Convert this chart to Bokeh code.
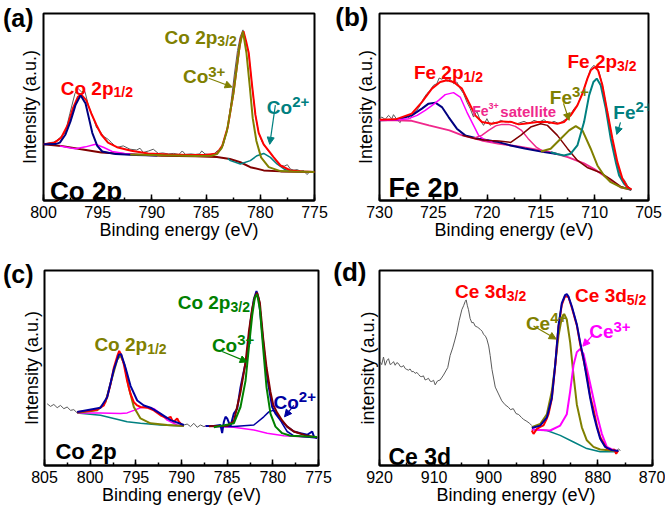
from bokeh.plotting import figure
from bokeh.layouts import column, row
from bokeh.models import Range1d, SingleIntervalTicker, FixedTicker, Arrow, NormalHead
from bokeh.core.properties import value
from bokeh.embed import file_html
from bokeh.resources import INLINE

FONT = "Liberation Sans"

# ---------------- panel (a) Co 2p ----------------
a_raw_ev = [800.0, 799.4, 799.1, 798.8, 798.5, 798.0, 797.56, 797.1, 796.8, 796.49,
            796.18, 795.87, 795.41, 795.1, 794.79, 794.49, 794.03, 793.72, 793.26, 792.64,
            792.02, 791.4, 791.1, 790.79, 790.3, 789.87, 789.41, 789.0, 788.5, 788.0,
            787.5, 787.2, 786.9, 786.4, 786.0, 785.6, 785.4, 785.1, 784.6, 784.2,
            784.0, 783.7, 783.4, 783.0, 782.7, 782.4, 782.1, 781.85, 781.6, 781.35,
            781.07, 780.76, 780.45, 780.15, 779.85, 779.5, 779.22, 778.76, 778.4, 778.14,
            777.8, 777.5, 777.22, 776.9, 776.6, 776.3, 776.0, 775.7, 775.4, 775.0]
a_raw_i = [57.3, 59, 59.5, 61, 64, 69, 89, 109, 114, 110.7,
           111.3, 97.3, 84, 74, 70.7, 65.7, 62.3, 59, 54, 55.7,
           52.3, 51.5, 53.3, 49, 50.5, 52.3, 48, 48.5, 47.5, 48,
           47, 50.5, 47, 47.5, 47, 47.5, 50.5, 47.5, 47, 48,
           50.5, 51, 57, 75, 100, 128, 153, 167, 174, 163,
           150, 117, 87, 69, 60, 54, 50, 44, 39, 36,
           35, 36.5, 32, 31, 31.5, 30, 30.5, 26.5, 29.5, 28.5]
a_env_ev = [800.0, 798.98, 798.37, 797.75, 797.29, 796.83, 796.52, 796.06, 795.6, 795.13,
            794.67, 794.05, 793.13, 791.9, 790.36, 788.5, 786.5, 785.0, 784.0, 783.5,
            783.0, 782.5, 782.0, 781.8, 781.55, 781.3, 781.07, 780.76, 780.45, 780.15,
            779.69, 779.22, 778.76, 778.14, 777.22, 776.2, 775.0]
a_env_i = [57.3, 59, 64, 77.3, 94, 105.7, 108, 102.3, 89, 77.3,
           67.3, 59, 54, 50.7, 48, 47, 46.5, 46.5, 48, 56,
           75, 108, 150, 165, 172.5, 162, 150.7, 117.3, 87.3, 69,
           57.3, 50.7, 44, 35.7, 30.7, 29.5, 29]
a_bg_ev = [800.0, 798.37, 796.52, 794.67, 792.51, 789.12, 786.0, 784.0, 782.8, 781.84,
           780.92, 779.69, 778.14, 775.0]
a_bg_i = [57.3, 55.7, 52.3, 49, 47.3, 45.7, 45, 44.3, 42.3, 39,
          34, 30.7, 29.7, 29]
a_p12_ev = [800.0, 798.9, 798.49, 797.97, 797.51, 797.05, 796.58, 796.12, 795.81, 795.5,
            795.04, 794.58, 793.35, 791.5, 789.5]
a_p12_i = [57.3, 57.5, 59, 67.3, 80.7, 97.3, 107.3, 99, 84, 69,
           55.7, 50, 47.3, 46.3, 45.8]
a_sat_ev = [798.5, 797.5, 797.05, 796.12, 795.2, 794.43, 793.66, 792.51, 791.5]
a_sat_i = [55.5, 53.5, 52.8, 54.7, 57.3, 54, 50, 48, 47]
a_co3_ev = [792.0, 789.0, 786.0, 784.5, 784.0, 783.54, 783.08, 782.77, 782.46, 782.15,
            781.91, 781.6, 781.28, 780.98, 780.7, 780.36, 779.93, 779.22, 778.14, 777.0, 775.0]
a_co3_i = [47, 46.2, 45.5, 45.7, 47.3, 54, 70.7, 90.7, 110.7, 137.3,
           157.3, 172.3, 150.7, 117.3, 84, 60.7, 44, 34, 30, 29.5, 29]
a_co2_ev = [783.0, 782.76, 781.84, 780.92, 780.3, 779.69, 779.07, 778.46, 777.69, 776.61, 775.2]
a_co2_i = [43, 40.7, 37.3, 40.7, 45.7, 48, 44, 37.3, 31.3, 29.7, 29]

# ---------------- panel (b) Fe 2p ----------------
b_raw_ev = [730.0, 729.78, 729.47, 729.16, 728.85, 728.70, 728.39, 728.08, 727.92, 727.46,
            727.15, 726.84, 726.53, 726.22, 725.91, 725.60, 725.29, 724.98, 724.67, 724.45,
            724.20, 723.98, 723.74, 723.43, 723.12, 722.81, 722.50, 722.19, 721.88, 721.57,
            721.26, 720.95, 720.64, 720.33, 720.02, 719.71, 719.40, 719.09, 718.78, 718.31,
            717.84, 717.38, 717.19, 716.57, 716.10, 715.64, 715.17, 714.71, 714.24, 713.78,
            713.31, 712.85, 712.38, 711.92, 711.61, 711.30, 710.99, 710.68, 710.37, 710.06,
            709.81, 709.59, 709.28, 708.82, 708.35, 707.95, 707.58, 707.27, 706.96, 706.65]
b_raw_i = [81.7, 83.3, 81, 85, 81.7, 85.7, 81, 77.7, 82.3, 84.3,
           81.7, 86.7, 90, 95, 101.7, 106.7, 110, 115, 116.7, 122.3,
           121, 123.3, 119, 121, 116.7, 118.3, 111.7, 106.7, 98.3, 91.7,
           83.3, 89, 80, 75, 81.7, 75, 78.3, 76.7, 80, 78.3,
           79, 76.7, 76.7, 79, 76.7, 80, 78.3, 80.7, 76.7, 79,
           76.7, 80, 83.3, 91.7, 95, 103.3, 111.7, 121.7, 131.7, 135,
           132.3, 128.3, 115, 88.3, 60, 38.3, 23.3, 21, 15, 11.7]
b_env_ev = [730.0, 728.5, 727.0, 726.06, 725.13, 724.36, 723.74, 723.12, 722.34, 721.72,
            721.1, 720.48, 719.55, 718.62, 717.69, 717.07, 716.57, 715.33, 714.4, 713.47,
            712.85, 712.23, 711.61, 711.14, 710.68, 710.37, 709.99, 709.69, 709.28, 708.82,
            708.35, 707.89, 707.42, 706.96, 706.58]
b_env_i = [80.5, 81, 86.7, 98.3, 111.7, 118.3, 120, 118.3, 111.7, 98.3,
           85, 78.3, 76.7, 79, 78.3, 76, 76.7, 78.3, 78.3, 76.7,
           78.3, 85, 95, 106.7, 121.7, 130, 133.3, 130, 115, 88.3,
           61.7, 38.3, 21.7, 13.3, 11]
b_bg_ev = [730.0, 728.5, 727.0, 725.4, 723.5, 722.3, 720.5, 719.0, 717.1, 715.5,
           714.0, 712.5, 711.0, 710.0, 709.4, 708.5, 707.6, 706.6]
b_bg_i = [80, 80, 79.5, 75, 70, 65, 60, 57, 54, 51,
          48, 43.3, 37, 31, 26.7, 20, 13.3, 10.7]
b_p12a_ev = [730.0, 728.4, 727.0, 726.06, 725.44, 724.82, 724.2, 723.58, 722.81, 722.03,
             720.79, 718.93, 717.81, 716.5, 714.71, 713.5]
b_p12a_i = [80, 80.5, 85, 91.7, 96.7, 97.7, 93.3, 83.3, 71.7, 65,
            61.7, 58.3, 55, 52, 48.3, 46.5]
b_p12b_ev = [730.0, 728.5, 727.3, 726.5, 725.75, 725.1, 724.51, 723.89, 723.12, 722.5,
             721.88, 721.26, 720.79, 720.3, 719.5]
b_p12b_i = [80, 80.3, 81.7, 85, 90, 95, 100, 105.7, 107.7, 103.3,
            88.3, 75, 65, 61, 58.5]
b_sat_ev = [721.3, 720.5, 719.86, 719.2, 718.62, 718.0, 717.38, 716.8, 716.2, 715.4, 714.7]
b_sat_i = [62, 65, 70, 74.5, 76, 76, 74, 70, 62, 53, 48.5]
b_mid_ev = [722.3, 721.0, 719.86, 718.9, 717.8, 716.88, 715.95, 715.02, 714.4, 713.47,
            712.54, 711.6, 710.7, 709.5, 708.5, 707.6, 706.6]
b_mid_i = [65, 61.5, 60, 59.5, 58, 65, 73.3, 76.7, 75, 65,
           52, 40, 33, 28, 21, 14, 10.7]
b_fe3_ev = [715.0, 714.09, 713.16, 712.38, 711.76, 711.14, 710.37, 709.75, 709.13, 708.51,
            707.58, 706.65]
b_fe3_i = [49, 51.7, 61.7, 70, 74.3, 70, 51.7, 35, 25, 18.3, 13.3, 11]
b_fe2_ev = [714.09, 713.5, 712.85, 712.23, 711.61, 710.99, 710.52, 710.12, 709.81, 709.44,
            708.97, 708.51, 708.04, 707.73, 707.27, 706.8, 706.6]
b_fe2_i = [48.3, 46.5, 45, 46.7, 55, 78.3, 105, 118.3, 121.7, 115,
           91.7, 61.7, 38.3, 25, 16.7, 11.7, 10.7]

# ---------------- panel (c) Co 2p ----------------
c_raw1_ev = [804.71, 804.34, 803.98, 803.61, 803.25, 802.88, 802.52, 802.15, 801.79, 801.42]
c_raw1_i = [63, 60.3, 62.3, 59, 61.3, 58, 59.7, 56.3, 57, 53.7]
c_raw2_ev = [789.74, 789.38, 789.01, 788.65, 788.28, 787.92, 787.55, 787.37]
c_raw2_i = [41.3, 42.3, 39.7, 43, 39, 41.3, 39.7, 40.3]
c_dat1_ev = [801.42, 800.33, 799.23, 798.5, 798.14, 797.77, 797.41, 797.04, 796.82, 796.61,
             796.31, 795.95, 795.58, 795.22, 794.85, 794.49, 793.76, 793.03, 792.3, 791.57,
             791.2, 791.02, 790.84, 790.47, 790.29, 789.93]
c_dat1_i = [54.7, 55.7, 57, 61.3, 69.7, 83, 99.7, 111.3, 117, 113,
            103, 86.3, 73, 64.7, 61.3, 59.7, 59, 56.3, 51.3, 48,
            49.7, 46.3, 44.7, 48, 44.7, 41.3]
c_env1_ev = [801.42, 798.87, 798.14, 797.41, 796.86, 796.61, 796.13, 795.58, 794.85, 794.12,
             793.39, 792.3, 791.2, 789.74]
c_env1_i = [54.7, 59, 69.7, 98, 113, 113.7, 99.7, 81.3, 66.3, 61.3,
            59, 53, 46.3, 41.3]
c_p12_ev = [801.42, 799.23, 798.32, 797.59, 797.04, 796.68, 796.24, 795.77, 795.22, 794.49,
            793.39, 791.57, 789.74]
c_p12_i = [53.7, 56.3, 64.7, 89.7, 108, 112.3, 103, 79.7, 59.7, 48,
           43, 41.3, 40.3]
c_sat_ev = [801.42, 798.87, 796.68, 795.95, 795.22, 794.49, 793.76, 793.03, 792.3, 791.57,
            790.47, 789.74]
c_sat_i = [53.7, 53.7, 53, 53.7, 56.3, 59, 59.7, 58, 53, 46.3, 41.3, 40.3]
c_bg1_ev = [801.42, 798.87, 797.41, 795.95, 794.49, 792.3, 789.74]
c_bg1_i = [53.7, 51.3, 48, 44.7, 43, 41.3, 40.3]
c_dat2_ev = [787.37, 786.46, 785.73, 785.55, 785.36, 785.18, 785.0, 784.64, 784.27, 783.9,
             783.54, 782.81, 782.45, 782.08, 781.79, 781.53, 781.17, 780.8, 780.44, 780.07,
             779.71, 779.16, 778.43, 777.7, 776.97, 776.24, 775.69, 775.51, 775.15]
c_dat2_i = [40.3, 40.3, 41.3, 33, 44.7, 49.7, 48, 39.7, 53, 58,
            79.7, 113, 146.3, 169.7, 178, 169.7, 136.3, 103, 79.7, 59.7,
            53, 46.3, 39.7, 34.7, 33, 31.3, 34.7, 29.7, 28]
c_env2_ev = [787.0, 785.0, 784.27, 783.54, 782.99, 782.63, 782.26, 781.97, 781.72, 781.42,
             781.06, 780.69, 780.26, 779.96, 779.53, 778.98, 778.43, 777.7, 776.5, 775.15]
c_env2_i = [40, 40.5, 45, 75, 105, 136, 160, 172, 176.3, 166,
            130, 100, 75, 62, 54, 46, 39.7, 34.7, 31, 28.7]
c_co3_ev = [786.46, 784.27, 783.54, 782.99, 782.63, 782.26, 781.97, 781.72, 781.42, 781.06,
            780.69, 780.26, 779.71, 778.98, 778.07, 775.15]
c_co3_i = [39, 43, 59.7, 86.3, 119.7, 153, 171.3, 174.7, 159.7, 119.7,
           79.7, 53, 39.7, 33, 30.3, 29]
c_co2_ev = [786.46, 784.27, 782.08, 780.99, 780.44, 779.96, 779.53, 778.98, 778.43, 777.7, 775.15]
c_co2_i = [39.7, 39.7, 41.3, 49.7, 54.7, 56.3, 53, 43, 34.7, 30.3, 28]
c_bg2_ev = [787.37, 784.27, 782.08, 780.62, 778.8, 775.15]
c_bg2_i = [40.3, 39, 36.3, 33, 30.3, 28.7]

# ---------------- panel (d) Ce 3d ----------------
d_raw_ev = [919.88, 919.6, 919.27, 918.96, 918.65, 918.35, 918.05, 917.74, 917.43, 917.13,
            916.82, 916.52, 916.2, 915.91, 915.6, 915.3, 915.0, 914.69, 914.4, 914.08,
            913.78, 913.47, 913.15, 912.86, 912.55, 912.25, 911.95, 911.64, 911.33, 911.03,
            910.72, 910.42, 910.1, 909.8, 909.38, 908.89, 908.28, 907.5, 907.06, 906.6,
            906.2, 905.84, 905.4, 904.92, 904.6, 904.31, 904.13, 903.9, 903.7, 903.4,
            903.09, 902.8, 902.48, 902.0, 901.56, 901.2, 900.95, 900.6, 900.34, 900.0,
            899.73, 899.4, 898.8, 898.2, 897.6, 897.0, 896.4, 896.0, 895.5, 895.0,
            894.5, 894.0, 893.6, 893.0, 892.5, 892.1]
d_raw_i = [105.7, 103, 110.7, 102.3, 107, 109, 103, 104, 106, 102.3,
           105, 104, 101, 100.7, 102, 99, 98, 97.3, 98.5, 95.7,
           96, 94, 95, 93, 91, 90.7, 91.5, 87.3, 88, 89,
           86, 85.7, 87, 82.3, 86.3, 87.3, 92.3, 100, 112.3, 120,
           128, 135.7, 148, 159, 163, 167.3, 169, 163, 159, 150,
           145.7, 146, 142.3, 141, 139, 137, 134, 132, 129, 122,
           112.3, 98, 80, 73, 66, 62, 59.5, 57, 58, 53,
           52, 49, 47, 45, 43, 40.7]
d_tail_ev = [876.5, 876.2, 875.9]
d_tail_i = [15.5, 17, 15]
d_env_ev = [892.1, 890.57, 889.35, 888.44, 887.83, 887.22, 886.61, 886.0, 885.7, 885.39,
            884.77, 883.86, 883.25, 882.64, 882.03, 881.42, 880.81, 880.2, 879.58, 878.67,
            877.45, 876.23]
d_env_i = [38.3, 40.7, 49, 69, 102.3, 142.3, 165.7, 174, 175, 172.3,
           162.3, 144, 125.7, 109, 89, 69, 52.3, 39, 27.3, 19,
           15.7, 14.7]
d_ce4_ev = [892.1, 890.57, 889.35, 888.44, 887.83, 887.22, 886.61, 886.18, 885.7, 885.08,
            884.47, 883.86, 882.94, 882.03, 880.81, 879.58, 876.53]
d_ce4_i = [39, 42.3, 52.3, 75.7, 102.3, 132.3, 150.7, 154.7, 149, 125.7,
           92.3, 62.3, 39, 25.7, 19, 16.3, 14.7]
d_ce3_ev = [892.1, 890.57, 888.74, 886.91, 885.7, 885.08, 884.47, 883.86, 883.25, 882.64,
            882.03, 881.11, 880.2, 879.28, 878.36, 877.14, 876.53]
d_ce3_i = [36.7, 36.3, 35.7, 40.7, 52.3, 75.7, 102.3, 115.7, 119, 114,
           99, 75.7, 52.3, 32.3, 19, 15.7, 15]
d_bg_ev = [892.1, 889.35, 886.91, 884.47, 882.03, 879.58, 876.53]
d_bg_i = [36.7, 35.7, 30.7, 24, 17.3, 14, 14]
d_dat_ev = [892.1, 891.79, 891.18, 890.57, 889.96, 889.35, 889.05, 888.44, 887.83, 887.22,
            886.61, 886.0, 885.39, 884.77, 883.86, 883.25, 882.64, 882.03, 881.42, 880.81,
            880.2, 879.58, 878.67, 878.36, 877.45, 877.0, 876.65, 876.3]
d_dat_i = [35.7, 32.3, 37.3, 39.5, 41, 48, 52.3, 68, 101, 142,
           164, 173, 172, 161, 143, 124, 108, 92.3, 71, 57.3,
           41, 29, 20, 17.3, 15.7, 16.5, 12, 15]

GRAY = "#5a5a5a"
RED = "#ff0000"
NAVY = "#000080"
MAG = "#ff00ff"
PINK = "#f0288c"
OLIVE = "#808000"
TEAL = "#008080"
MAROON = "#800000"
GREEN = "#008000"
BLUE = "#0000a0"


def make_fig(xr, ymax, interval, bl, fw, br, bt, fh, bb,
             tag, tag_y, tag_size, tag_standoff, ylab, ylab_standoff):
    p = figure(width=bl + fw + br, height=bt + fh + bb,
               x_range=Range1d(xr[0], xr[1]), y_range=Range1d(0, ymax),
               output_backend="svg", toolbar_location=None,
               min_border_left=bl, min_border_right=br, min_border_top=bt,
               min_border_bottom=bb)
    p.xgrid.visible = False
    p.ygrid.visible = False
    p.outline_line_color = "black"
    p.outline_line_width = 2
    p.outline_line_alpha = 1
    p.background_fill_color = "white"
    p.border_fill_color = "white"
    ax = p.xaxis[0]
    ax.ticker = SingleIntervalTicker(interval=interval, num_minor_ticks=2)
    ax.axis_line_width = 2
    ax.major_tick_in = 6
    ax.major_tick_out = 0
    ax.minor_tick_in = 3
    ax.minor_tick_out = 0
    ax.major_tick_line_width = 1.5
    ax.minor_tick_line_width = 1.5
    ax.major_label_text_font = FONT
    ax.major_label_text_font_size = "16px"
    ax.major_label_text_color = "black"
    ax.major_label_standoff = 5
    ax.axis_label = "Binding energy (eV)"
    ax.axis_label_text_font = FONT
    ax.axis_label_text_font_size = "18px"
    ax.axis_label_text_font_style = "normal"
    ax.axis_label_text_color = "black"
    ax.axis_label_standoff = -1
    # left axis: no ticks; its single label is the panel tag, plus the y title
    yax = p.yaxis[0]
    yax.ticker = FixedTicker(ticks=[tag_y])
    yax.major_label_overrides = {tag_y: tag}
    yax.major_label_text_font = FONT
    yax.major_label_text_font_size = tag_size
    yax.major_label_text_font_style = "bold"
    yax.major_label_text_color = "black"
    yax.major_label_standoff = tag_standoff
    yax.major_tick_in = 0
    yax.major_tick_out = 0
    yax.minor_tick_in = 0
    yax.minor_tick_out = 0
    yax.major_tick_line_color = None
    yax.minor_tick_line_color = None
    yax.axis_line_color = None
    yax.axis_label = ylab
    yax.axis_label_text_font = FONT
    yax.axis_label_text_font_size = "18px"
    yax.axis_label_text_font_style = "normal"
    yax.axis_label_text_color = "black"
    yax.axis_label_standoff = ylab_standoff
    return p


def ln(p, xs, ys, color, w):
    p.line(xs, ys, line_color=color, line_width=w)


def txt(p, x, y, s, color, size, align="left", style="bold"):
    p.text(x=[x], y=[y], text=[s], text_color=color, text_font=value(FONT),
           text_font_size=value(size), text_font_style=value(style),
           text_align=value(align), text_baseline=value("alphabetic"))


def sub(p, x, y, main, s, color, dy, size="19px", ssize="14px"):
    txt(p, x, y, main, color, size, "right")
    txt(p, x, y + dy, s, color, ssize, "left")


def sup(p, x, y, main, s, color, dy=5.5, size="19px", ssize="15px"):
    txt(p, x, y, main, color, size, "right")
    txt(p, x, y + dy, s, color, ssize, "left")


def arrow(p, x0, y0, x1, y1, color):
    p.add_layout(Arrow(end=NormalHead(size=7, line_color=color, fill_color=color, line_width=1),
                       x_start=x0, y_start=y0, x_end=x1, y_end=y1,
                       line_color=color, line_width=1.2))


# ---- (a)
pa = make_fig((800, 775), 190.7, 5, 43, 271, 19, 13, 191, 52,
              "(a)", 186, "25px", 10, "Intensity (a.u.)", -40)
ln(pa, a_raw_ev, a_raw_i, GRAY, 1)
ln(pa, a_bg_ev, a_bg_i, MAROON, 2)
ln(pa, a_sat_ev, a_sat_i, MAG, 1.5)
ln(pa, a_co2_ev, a_co2_i, TEAL, 1.5)
ln(pa, a_env_ev, a_env_i, RED, 2)
ln(pa, a_p12_ev, a_p12_i, NAVY, 2)
ln(pa, a_co3_ev, a_co3_i, OLIVE, 2)
sub(pa, 783.96, 166.7, "Co 2p", "3/2", OLIVE, -4.4)
sub(pa, 793.54, 114, "Co 2p", "1/2", RED, -3.5)
sup(pa, 784.8, 126, "Co", "3+", OLIVE)
sup(pa, 777.06, 94.7, "Co", "2+", TEAL)
txt(pa, 799.4, 9.5, "Co 2p", "black", "26px")
arrow(pa, 784.76, 124.7, 782.6, 115.7, OLIVE)
arrow(pa, 778.61, 97.3, 779.13, 57.3, TEAL)

# ---- (b)
pb = make_fig((730, 705), 186.7, 5, 46, 269, 17, 13, 187, 56,
              "(b)", 183, "26px", 11, "Intensity (a.u.)", -44)
ln(pb, b_raw_ev, b_raw_i, GRAY, 1)
ln(pb, b_bg_ev, b_bg_i, PINK, 2)
ln(pb, b_p12a_ev, b_p12a_i, NAVY, 2)
ln(pb, b_p12b_ev, b_p12b_i, MAG, 1.5)
ln(pb, b_sat_ev, b_sat_i, PINK, 1.5)
ln(pb, b_mid_ev, b_mid_i, MAROON, 1.5)
ln(pb, b_fe3_ev, b_fe3_i, OLIVE, 2)
ln(pb, b_fe2_ev, b_fe2_i, TEAL, 2)
ln(pb, b_env_ev, b_env_i, RED, 2)
sub(pb, 722.19, 127.3, "Fe 2p", "1/2", RED, -4.3)
sub(pb, 707.92, 139, "Fe 2p", "3/2", RED, -4.3)
sup(pb, 712.11, 103.3, "Fe", "3+", OLIVE)
sup(pb, 706.21, 88.3, "Fe", "2+", TEAL)
sup(pb, 719.86, 89.3, "Fe", "3+", PINK, 5, size="14px", ssize="9px")
txt(pb, 718.77, 89.3, "satellite", PINK, "15px")
txt(pb, 729.16, 12, "Fe 2p", "black", "27px")
arrow(pb, 712.9, 97, 712.38, 80, OLIVE)
arrow(pb, 707.6, 78, 707.95, 66, TEAL)

# ---- (c)
pc = make_fig((805, 775), 199, 5, 44, 274, 15, 14, 199, 43,
              "(c)", 195, "25px", 11, "Intensity (a.u.)", -42)
ln(pc, c_raw1_ev, c_raw1_i, GRAY, 1)
ln(pc, c_raw2_ev, c_raw2_i, GRAY, 1)
ln(pc, c_bg1_ev, c_bg1_i, TEAL, 1.5)
ln(pc, c_sat_ev, c_sat_i, MAG, 1.5)
ln(pc, c_p12_ev, c_p12_i, OLIVE, 2)
ln(pc, c_dat1_ev, c_dat1_i, RED, 2)
ln(pc, c_env1_ev, c_env1_i, BLUE, 2)
ln(pc, c_bg2_ev, c_bg2_i, MAG, 1.5)
ln(pc, c_co2_ev, c_co2_i, BLUE, 1.5)
ln(pc, c_dat2_ev, c_dat2_i, BLUE, 2)
ln(pc, c_env2_ev, c_env2_i, MAROON, 2)
ln(pc, c_co3_ev, c_co3_i, GREEN, 2)
sub(pc, 784.64, 166.3, "Co 2p", "3/2", GREEN, -4.3)
sup(pc, 783.9, 122.3, "Co", "3+", GREEN)
sup(pc, 777.15, 64.7, "Co", "2+", BLUE)
sub(pc, 793.76, 123, "Co 2p", "1/2", OLIVE, -4.3)
txt(pc, 803.8, 14, "Co 2p", "black", "22px")
arrow(pc, 785.55, 116.3, 782.81, 105.7, GREEN)
arrow(pc, 777.7, 61.3, 778.72, 49.7, BLUE)

# ---- (d)
pd_ = make_fig((920, 870), 199, 10, 46, 273, 13, 10, 199, 47,
               "(d)", 197, "26px", 13, "intensity (a.u.)", -48)
ln(pd_, d_raw_ev, d_raw_i, GRAY, 1)
ln(pd_, d_tail_ev, d_tail_i, GRAY, 1)
ln(pd_, d_bg_ev, d_bg_i, TEAL, 1.5)
ln(pd_, d_ce4_ev, d_ce4_i, OLIVE, 2)
ln(pd_, d_ce3_ev, d_ce3_i, MAG, 2)
ln(pd_, d_dat_ev, d_dat_i, RED, 2)
ln(pd_, d_env_ev, d_env_i, BLUE, 2)
sub(pd_, 896.68, 177.3, "Ce 3d", "3/2", RED, -4.3)
sub(pd_, 874.7, 173, "Ce 3d", "5/2", RED, -4.3)
sup(pd_, 888.74, 145, "Ce", "4+", OLIVE)
sup(pd_, 877.14, 136.3, "Ce", "3+", MAG)
txt(pd_, 918.35, 9, "Ce 3d", "black", "23px")
arrow(pd_, 891.79, 142.3, 887.64, 129, OLIVE)
arrow(pd_, 880.8, 134, 882.76, 121.7, MAG)

layout = column(row(pa, pb), row(pc, pd_))
open("out.html", "w").write(file_html(layout, INLINE))
